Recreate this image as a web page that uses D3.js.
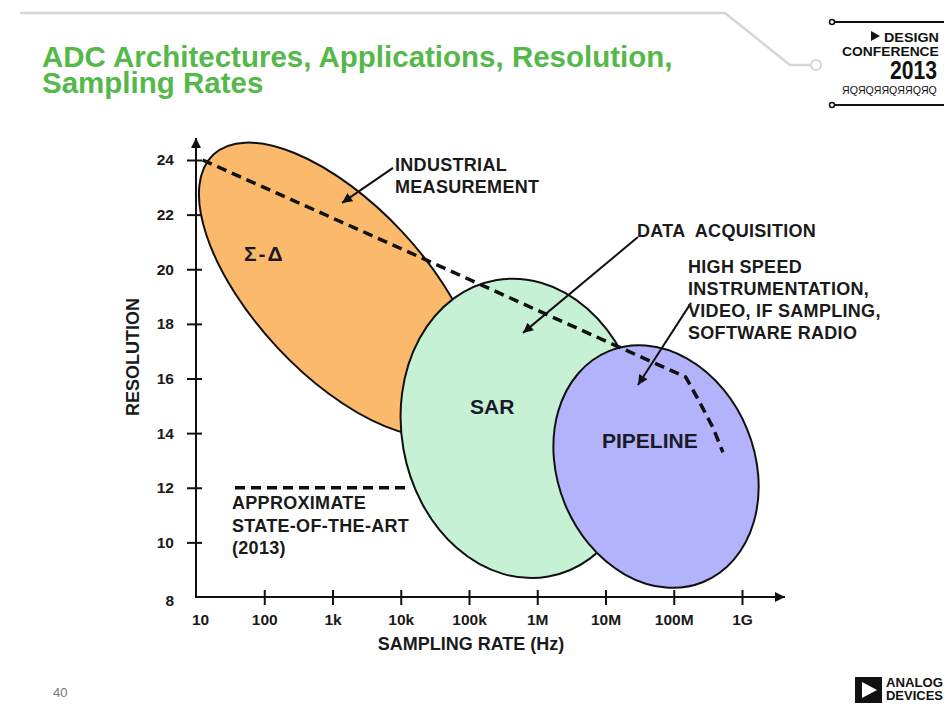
<!DOCTYPE html>
<html lang="en">
<head>
<meta charset="UTF-8">
<title>ADC Architectures, Applications, Resolution, Sampling Rates</title>
<script src="https://d3js.org/d3.v7.min.js"></script>
<style>
  html, body { margin: 0; padding: 0; background: #fff; }
  svg { display: block; font-family: "Liberation Sans", Arial, Helvetica, sans-serif; }
  .title { fill: #55b84a; font-size: 29.5px; font-weight: bold; }
  .note { font-size: 18px; font-weight: bold; fill: #1a1a1a; white-space: pre; letter-spacing: 0.3px; }
  .region { font-size: 21px; font-weight: bold; fill: #1a1a2a; }
  .axis-title { font-size: 18px; font-weight: bold; fill: #1a1a1a; }
</style>
</head>
<body>
<svg id="chart" width="944" height="704"></svg>
<script>
// ---- data ----
const rateTicks = [10, 100, 1e3, 1e4, 1e5, 1e6, 1e7, 1e8, 1e9];
const rateLabels = ["10", "100", "1k", "10k", "100k", "1M", "10M", "100M", "1G"];
const bitTicks = [8, 10, 12, 14, 16, 18, 20, 22, 24];

// each architecture region: ends of the long axis (Hz, bits) + width ratio
const archNames = ["Σ-Δ", "SAR", "PIPELINE"];
const archFromHz = [18, 2.45e5, 1.12e7];
const archFromBits = [24.2, 19.6, 17.0];
const archToHz = [9.1e4, 1.46e6, 2.7e8];
const archToBits = [14.3, 8.75, 8.55];
const archWidth = [0.46, 0.80, 0.79];

// approximate state of the art (2013)
const frontierHz = [12.5, 1e4, 1e6, 1.5e8, 2.17e8, 3.76e8, 5.25e8];
const frontierBits = [24, 20.76, 18.5, 16.05, 15.33, 14.2, 13.3];

// application arrows
const noteFromHz = [7.7e3, 2.99e7, 1.79e8];
const noteFromBits = [23.71, 21.18, 18.77];
const noteToHz = [1.38e3, 6.18e5, 2.99e7];
const noteToBits = [22.43, 17.67, 15.76];

const archFill = ["#fbb96c", "#c6f1d5", "#b3b3fb"];

const svg = d3.select("#chart");

const x = d3.scaleLog().domain([10, 1e9]).range([196, 742]);
const y = d3.scaleLinear().domain([8, 24]).range([597, 160]);

// squeeze a text horizontally so it fills a given width (condensed logo type)
function fitText(parent, tx, ty, size, width, str, weight) {
  const t = parent.append("text").attr("font-size", size)
    .attr("font-weight", weight || "bold").text(str);
  const len = t.node().getComputedTextLength() || width;
  t.attr("transform", `translate(${tx},${ty}) scale(${width / len},1)`);
  return t;
}

// arrow head marker
const defs = svg.append("defs");
defs.append("marker")
  .attr("id", "head")
  .attr("viewBox", "0 0 10 10")
  .attr("refX", 10).attr("refY", 5)
  .attr("markerUnits", "userSpaceOnUse")
  .attr("markerWidth", 13).attr("markerHeight", 10)
  .attr("orient", "auto")
  .append("path").attr("d", "M0,0L10,5L0,10Z").attr("fill", "#111");

// ---- slide decoration ----
svg.append("path")
  .attr("d", "M20,13H725L790,65H811")
  .attr("fill", "none").attr("stroke", "#d6d6d6").attr("stroke-width", 2.5);
svg.append("circle").attr("cx", 816).attr("cy", 65).attr("r", 5)
  .attr("fill", "#fff").attr("stroke", "#d6d6d6").attr("stroke-width", 2);

svg.append("text").attr("class", "title").attr("x", 42).attr("y", 67)
  .text("ADC Architectures, Applications, Resolution,");
svg.append("text").attr("class", "title").attr("x", 42).attr("y", 93)
  .text("Sampling Rates");

// conference logo
const logo = svg.append("g").attr("fill", "#111");
[22, 105].forEach(yy => {
  logo.append("line").attr("x1", 834).attr("x2", 944).attr("y1", yy).attr("y2", yy)
    .attr("stroke", "#111").attr("stroke-width", 2);
  logo.append("circle").attr("cx", 832).attr("cy", yy).attr("r", 2.5)
    .attr("fill", "#fff").attr("stroke", "#111").attr("stroke-width", 1.5);
});
logo.append("path").attr("d", "M871,31L880,36L871,41Z");
fitText(logo, 884, 41.5, 13.5, 55, "DESIGN");
fitText(logo, 842, 56, 13.5, 97, "CONFERENCE");
fitText(logo, 890, 79, 25, 47, "2013");
fitText(logo, 842, 94, 10, 95, "ЯQЯQЯЯQЯЯQЯQ", "normal");

// ---- regions ----
const regions = archNames.map((name, i) => {
  const x1 = x(archFromHz[i]), y1 = y(archFromBits[i]);
  const x2 = x(archToHz[i]), y2 = y(archToBits[i]);
  const a = Math.hypot(x2 - x1, y2 - y1) / 2;
  return {
    name, cx: (x1 + x2) / 2, cy: (y1 + y2) / 2, rx: a, ry: a * archWidth[i],
    angle: Math.atan2(y2 - y1, x2 - x1) * 180 / Math.PI, fill: archFill[i]
  };
});

svg.append("g").selectAll("ellipse")
  .data(regions)
  .join("ellipse")
  .attr("transform", d => `translate(${d.cx},${d.cy}) rotate(${d.angle})`)
  .attr("rx", d => d.rx).attr("ry", d => d.ry)
  .attr("fill", d => d.fill)
  .attr("stroke", "#111").attr("stroke-width", 2);

// region names
svg.append("text").attr("class", "region").attr("x", 244).attr("y", 261)
  .attr("font-size", 18).attr("letter-spacing", 2).text(archNames[0]);
svg.append("text").attr("class", "region").attr("x", 470).attr("y", 414).text(archNames[1]);
svg.append("text").attr("class", "region").attr("x", 602).attr("y", 448).text(archNames[2]);

// ---- axes ----
const yAxis = svg.append("g").attr("class", "axis").attr("transform", `translate(${x(10)},0)`)
  .call(d3.axisLeft(y).tickValues(bitTicks).tickSize(9).tickPadding(13).tickFormat(d3.format("d")));
const xAxis = svg.append("g").attr("class", "axis").attr("transform", `translate(0,${y(8)})`)
  .call(d3.axisBottom(x).tickValues(rateTicks).tickSize(8).tickPadding(9)
    .tickFormat((d, i) => rateLabels[i]));

[yAxis, xAxis].forEach(g => {
  g.select(".domain").remove();
  g.attr("font-family", null).attr("font-size", null);
  g.selectAll("text").attr("font-size", 15.5).attr("font-weight", "bold").attr("fill", "#1a1a1a");
  g.selectAll(".tick line").attr("stroke", "#111").attr("stroke-width", 2);
});
yAxis.selectAll(".tick line").attr("x1", 6);
yAxis.selectAll(".tick").filter(d => d === 8).select("line").remove();
yAxis.selectAll(".tick").filter(d => d === 8).select("text").attr("dy", "0.55em");
xAxis.selectAll(".tick line").attr("y1", -7);
xAxis.selectAll(".tick").filter(d => d === 10).select("line").remove();
xAxis.selectAll(".tick").filter(d => d === 10).select("text").attr("dx", 4);

svg.append("line")
  .attr("x1", x(10)).attr("y1", y(8)).attr("x2", x(10)).attr("y2", y.range()[1] - 22)
  .attr("stroke", "#111").attr("stroke-width", 2).attr("marker-end", "url(#head)");
svg.append("line")
  .attr("x1", x(10) - 1).attr("y1", y(8)).attr("x2", x.range()[1] + 43).attr("y2", y(8))
  .attr("stroke", "#111").attr("stroke-width", 2).attr("marker-end", "url(#head)");

svg.append("text").attr("class", "axis-title")
  .attr("transform", "translate(139,357) rotate(-90)")
  .attr("text-anchor", "middle").text("RESOLUTION");
svg.append("text").attr("class", "axis-title")
  .attr("x", 471).attr("y", 650).attr("text-anchor", "middle").text("SAMPLING RATE (Hz)");

// ---- state of the art line ----
const frontier = frontierHz.map((f, i) => [x(f), y(frontierBits[i])]);
svg.append("path")
  .attr("d", d3.line()(frontier))
  .attr("fill", "none").attr("stroke", "#111")
  .attr("stroke-width", 3.5).attr("stroke-dasharray", "10,6");

// legend
svg.append("line")
  .attr("x1", 235).attr("x2", 410).attr("y1", y(12)).attr("y2", y(12))
  .attr("stroke", "#111").attr("stroke-width", 3.5).attr("stroke-dasharray", "10,6");
["APPROXIMATE", "STATE-OF-THE-ART", "(2013)"].forEach((t, i) => {
  svg.append("text").attr("class", "note").attr("x", 232).attr("y", 509 + i * 22.5).text(t);
});

// ---- applications ----
svg.append("g").selectAll("line")
  .data(noteFromHz.map((f, i) => ({ f, i })))
  .join("line")
  .attr("x1", d => x(d.f)).attr("y1", d => y(noteFromBits[d.i]))
  .attr("x2", d => x(noteToHz[d.i])).attr("y2", d => y(noteToBits[d.i]))
  .attr("stroke", "#111").attr("stroke-width", 2).attr("marker-end", "url(#head)");

const notes = [
  { x: 395, y: 171, lines: ["INDUSTRIAL", "MEASUREMENT"] },
  { x: 637, y: 237, lines: ["DATA  ACQUISITION"] },
  { x: 688, y: 273, lines: ["HIGH SPEED", "INSTRUMENTATION,", "VIDEO, IF SAMPLING,", "SOFTWARE RADIO"] }
];
notes.forEach(n => {
  n.lines.forEach((t, i) => {
    svg.append("text").attr("class", "note").attr("x", n.x).attr("y", n.y + i * 22).text(t);
  });
});

// ---- footer ----
svg.append("text").attr("x", 53).attr("y", 697).attr("font-size", 13)
  .attr("fill", "#777").text("40");
const adi = svg.append("g").attr("fill", "#111");
adi.append("rect").attr("x", 855).attr("y", 677).attr("width", 27).attr("height", 26);
adi.append("path").attr("d", "M862,682L877,690L862,698Z").attr("fill", "#fff");
fitText(adi, 886, 687, 12, 57, "ANALOG");
fitText(adi, 886, 700, 12, 57, "DEVICES");
</script>
</body>
</html>
